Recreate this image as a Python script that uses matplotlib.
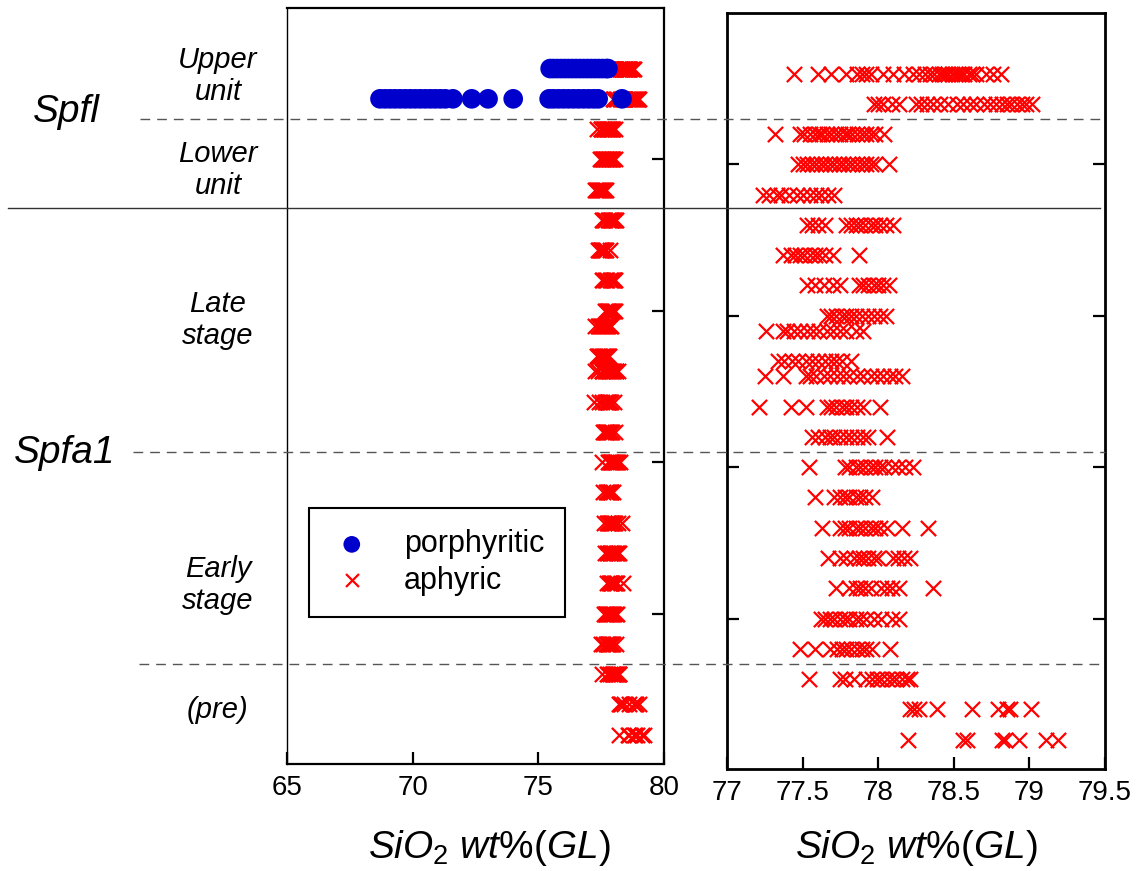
import numpy as np
import matplotlib
matplotlib.use("Agg")
import matplotlib.pyplot as plt
import matplotlib.transforms as mtransforms

plt.rcParams['font.family'] = ['Liberation Sans', 'DejaVu Sans']
plt.rcParams['mathtext.fontset'] = 'custom'
plt.rcParams['mathtext.it'] = 'Liberation Sans:italic'
plt.rcParams['mathtext.rm'] = 'Liberation Sans'
plt.rcParams['mathtext.default'] = 'it'

# sample rows (top to bottom), position on the stratigraphic axis
row_pos = [-3, -2, -1, 0, 1, 2, 3, 4, 5, 5.5, 6.5, 7, 8, 9, 10, 11, 12, 13, 14, 15, 16, 17, 18, 19]

# aphyric glass SiO2 (wt%) per row
aphyric = [
    [77.44, 77.60, 77.69, 77.79, 77.86, 77.89, 77.92, 77.95, 78.03, 78.10, 78.17, 78.23, 78.27, 78.31,
     78.34, 78.37, 78.40, 78.42, 78.44, 78.46, 78.49, 78.51, 78.53, 78.55, 78.57, 78.60, 78.62, 78.65,
     78.71, 78.76, 78.81],
    [77.97, 78.00, 78.03, 78.09, 78.14, 78.25, 78.28, 78.32, 78.36, 78.41, 78.46, 78.52, 78.56, 78.61,
     78.65, 78.70, 78.74, 78.78, 78.82, 78.85, 78.88, 78.92, 78.95, 78.98, 79.02],
    [77.32, 77.48, 77.51, 77.55, 77.58, 77.61, 77.63, 77.66, 77.69, 77.72, 77.75, 77.78, 77.80, 77.83,
     77.86, 77.89, 77.92, 77.95, 77.98, 78.04],
    [77.47, 77.50, 77.53, 77.56, 77.59, 77.62, 77.65, 77.68, 77.71, 77.74, 77.77, 77.80, 77.83, 77.86,
     77.89, 77.92, 77.95, 77.98, 78.07],
    [77.24, 77.28, 77.33, 77.36, 77.41, 77.46, 77.50, 77.55, 77.59, 77.62, 77.67, 77.71],
    [77.53, 77.56, 77.60, 77.65, 77.79, 77.82, 77.85, 77.88, 77.91, 77.95, 77.98, 78.01, 78.05, 78.10],
    [77.37, 77.42, 77.45, 77.48, 77.51, 77.55, 77.58, 77.61, 77.65, 77.70, 77.87],
    [77.53, 77.58, 77.64, 77.70, 77.75, 77.87, 77.90, 77.93, 77.97, 78.00, 78.03, 78.07],
    [77.66, 77.69, 77.72, 77.76, 77.79, 77.82, 77.85, 77.89, 77.93, 77.97, 78.01, 78.05],
    [77.26, 77.37, 77.40, 77.44, 77.48, 77.53, 77.57, 77.61, 77.66, 77.70, 77.75, 77.79, 77.85, 77.90],
    [77.34, 77.38, 77.43, 77.47, 77.52, 77.56, 77.60, 77.65, 77.69, 77.72, 77.76, 77.82],
    [77.25, 77.37, 77.52, 77.55, 77.59, 77.64, 77.68, 77.73, 77.77, 77.81, 77.86, 77.90, 77.95, 77.99,
     78.03, 78.08, 78.11, 78.16],
    [77.21, 77.42, 77.52, 77.66, 77.69, 77.72, 77.76, 77.79, 77.82, 77.86, 77.90, 78.01],
    [77.56, 77.60, 77.65, 77.68, 77.71, 77.75, 77.79, 77.82, 77.86, 77.90, 77.93, 78.06],
    [77.54, 77.78, 77.81, 77.85, 77.88, 77.91, 77.95, 77.98, 78.01, 78.04, 78.09, 78.13, 78.18, 78.23],
    [77.58, 77.71, 77.75, 77.78, 77.81, 77.85, 77.88, 77.91, 77.96],
    [77.63, 77.75, 77.78, 77.81, 77.85, 77.88, 77.91, 77.95, 77.98, 78.01, 78.06, 78.16, 78.33],
    [77.67, 77.75, 77.79, 77.84, 77.87, 77.90, 77.93, 77.97, 78.00, 78.10, 78.13, 78.17, 78.21],
    [77.72, 77.81, 77.85, 77.88, 77.91, 77.95, 78.02, 78.06, 78.09, 78.14, 78.36],
    [77.62, 77.65, 77.68, 77.71, 77.75, 77.78, 77.81, 77.85, 77.88, 77.92, 77.97, 78.02, 78.09, 78.14],
    [77.48, 77.58, 77.68, 77.73, 77.76, 77.79, 77.82, 77.86, 77.89, 77.92, 77.96, 78.08],
    [77.54, 77.75, 77.78, 77.84, 77.92, 77.96, 77.99, 78.02, 78.06, 78.09, 78.12, 78.16, 78.19, 78.21],
    [78.21, 78.24, 78.27, 78.39, 78.62, 78.79, 78.85, 78.87, 79.01],
    [78.20, 78.56, 78.59, 78.82, 78.84, 78.93, 79.11, 79.19],
]

# porphyritic glass SiO2 (only in the upper unit rows)
porph_pos = [-3, -2]
porphyritic = [
    [75.47, 75.60, 75.75, 75.90, 76.05, 76.20, 76.35, 76.50, 76.65, 76.80, 76.95, 77.10, 77.25, 77.40,
     77.55, 77.70, 77.77],
    [68.70, 68.90, 69.10, 69.30, 69.50, 69.70, 69.90, 70.10, 70.30, 70.50, 70.70, 70.90, 71.10, 71.30,
     71.60, 72.35, 73.00, 74.00, 75.43, 75.60, 75.80, 76.00, 76.20, 76.40, 76.60, 76.80, 77.00, 77.20,
     77.38, 78.33],
]

# unit boundaries
dashed_bounds = [-1.5, 9.5, 16.5]
solid_bound = 1.45

left_xticks = [65, 70, 75, 80]
right_xticks = [77, 77.5, 78, 78.5, 79, 79.5]
right_xticklabels = ['77', '77.5', '78', '78.5', '79', '79.5']
ytick_rows = [0, 5, 10, 15]

ax_y = np.concatenate([np.full(len(v), p) for v, p in zip(aphyric, row_pos)])
ax_x = np.concatenate(aphyric)
po_y = np.concatenate([np.full(len(v), p) for v, p in zip(porphyritic, porph_pos)])
po_x = np.concatenate(porphyritic)

W, H = 1137, 871
fig = plt.figure(figsize=(W / 100, H / 100), dpi=100)


def fx(px):
    return px / W


def fy(py):
    return 1 - py / H


ax1 = fig.add_axes([fx(287), fy(764), 377 / W, 756 / H])
ax2 = fig.add_axes([fx(727), fy(769), 378 / W, 756 / H])
ax2.set_facecolor('none')

red = '#ff0000'
blue = '#0000cc'

ha = ax1.scatter(ax_x, ax_y, marker='x', s=120, c=red, linewidths=1.6, zorder=2, label='aphyric')
hp = ax1.scatter(po_x, po_y, marker='o', s=200, c=blue, edgecolors='none', zorder=3, label='porphyritic')
ax2.scatter(ax_x, ax_y, marker='x', s=120, c=red, linewidths=1.6, zorder=2)

for ax in (ax1, ax2):
    ax.set_ylim(19.97, -5.0)
    for s in ax.spines.values():
        s.set_linewidth(1.6)
    ax.set_yticks(ytick_rows)
    ax.tick_params(axis='both', direction='in', length=8.5, width=1.6, labelsize=20, pad=8)
    ax.tick_params(axis='y', labelleft=False, labelright=False)

ax1.spines['left'].set_linewidth(1.0)
ax1.set_xlim(65, 80)
ax1.set_xticks(left_xticks)
ax1.tick_params(axis='y', left=False, right=True)

for s in ax2.spines.values():
    s.set_linewidth(2.0)
ax2.set_xlim(77, 79.5)
ax2.set_xticks(right_xticks)
ax2.set_xticklabels(right_xticklabels)
ax2.tick_params(axis='y', left=True, right=True)

# boundary lines running across both panels
tr = mtransforms.blended_transform_factory(ax2.transAxes, ax2.transData)
for yb, x0 in zip(dashed_bounds, [-1.553, -1.571, -1.556]):
    ax2.plot([x0, 1.0], [yb, yb], transform=tr, clip_on=False, color='#555555',
             lw=1.0, linestyle=(0, (7, 5)), zorder=5)
ax2.plot([-1.902, 0.987], [solid_bound, solid_bound], transform=tr, clip_on=False,
         color='#333333', lw=1.0, zorder=5)

# unit labels
lab_kw = dict(fontsize=21, style='italic', ha='center', va='center', linespacing=1.15)
fig.text(fx(218), fy(76), 'Upper\nunit', **lab_kw)
fig.text(fx(218), fy(170), 'Lower\nunit', **lab_kw)
fig.text(fx(218), fy(320), 'Late\nstage', **lab_kw)
fig.text(fx(218), fy(585), 'Early\nstage', **lab_kw)
fig.text(fx(218), fy(710), '(pre)', **lab_kw)
fig.text(fx(66), fy(122), 'Spfl', fontsize=28, style='italic', ha='center', va='baseline')
fig.text(fx(65), fy(463), 'Spfa1', fontsize=28, style='italic', ha='center', va='baseline')

xl = r'$SiO_2\ wt\%(GL)$'
fig.text(fx(489), fy(858), xl, fontsize=28, ha='center', va='baseline')
fig.text(fx(916), fy(858), xl, fontsize=28, ha='center', va='baseline')

leg = ax1.legend(handles=[hp, ha], loc='upper left', bbox_to_anchor=(fx(309), fy(508)),
                 bbox_transform=fig.transFigure, fontsize=22, frameon=True, fancybox=False,
                 borderpad=0.7, handlelength=1.4, handletextpad=1.0, labelspacing=0.2,
                 borderaxespad=0, markerscale=0.85)
leg.get_frame().set_edgecolor('black')
leg.get_frame().set_linewidth(1.5)
leg.get_frame().set_alpha(1)

fig.savefig('out.png', dpi=100)
